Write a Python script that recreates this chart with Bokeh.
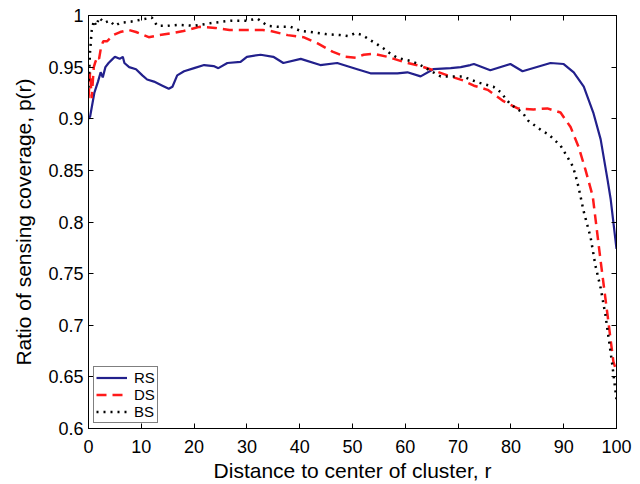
from bokeh.plotting import figure
from bokeh.models import Range1d, LinearAxis, FixedTicker, CustomJSTickFormatter, Legend, LegendItem
from bokeh.embed import file_html
from bokeh.resources import INLINE

# ---- data ----
rs_r = [0, 0.3, 1.1, 1.8, 2.3, 2.7, 3.2, 3.8, 4.4, 5, 5.9, 6.5, 6.8, 7.7, 9, 10.2, 11.1, 12.4, 14,
        15.2, 15.9, 16.8, 18.1, 20, 21.9, 23.7, 24.6, 26.3, 28.8, 30, 32.6, 35, 36.9, 40.2, 43.9,
        47.1, 50.9, 53.4, 58.5, 60.4, 62.9, 65.3, 68.6, 70.5, 72.3, 73, 76.1, 79.9, 82.2, 87.5,
        90, 91.9, 93.8, 95.6, 97, 98.3, 98.9, 100]
rs_p = [0.900, 0.902, 0.925, 0.936, 0.945, 0.940, 0.950, 0.954, 0.957, 0.960, 0.958, 0.960, 0.954,
        0.950, 0.948, 0.942, 0.938, 0.936, 0.932, 0.929, 0.931, 0.942, 0.946, 0.949, 0.952, 0.951,
        0.949, 0.954, 0.955, 0.960, 0.962, 0.960, 0.954, 0.958, 0.952, 0.954, 0.948, 0.944, 0.944,
        0.945, 0.941, 0.948, 0.949, 0.950, 0.952, 0.953, 0.947, 0.953, 0.946, 0.954, 0.953, 0.945,
        0.931, 0.906, 0.880, 0.841, 0.822, 0.774]

ds_r = [0, 0.3, 0.6, 1, 1.3, 1.7, 2, 2.4, 2.8, 3.5, 4.7, 6, 7.6, 9, 11.4, 13.5, 15.9, 18, 21, 24,
        26.7, 30, 33, 34.5, 37.7, 40.7, 43.4, 46.2, 48.7, 50.6, 52.1, 54, 56.6, 59.7, 62.9, 65.3,
        68, 71, 73, 75.6, 78.6, 81.3, 84.3, 86.9, 89.4, 91.3, 92.8, 94.1, 95.5, 97, 98.3, 99.4, 100]
ds_p = [0.920, 0.945, 0.920, 0.950, 0.955, 0.960, 0.958, 0.970, 0.975, 0.975, 0.981, 0.984, 0.986,
        0.984, 0.979, 0.981, 0.983, 0.985, 0.989, 0.988, 0.986, 0.986, 0.986, 0.985, 0.981, 0.979,
        0.973, 0.965, 0.960, 0.959, 0.962, 0.963, 0.960, 0.955, 0.951, 0.947, 0.942, 0.937, 0.932,
        0.928, 0.917, 0.910, 0.909, 0.910, 0.906, 0.892, 0.873, 0.851, 0.825, 0.762, 0.710, 0.665,
        0.655]

bs_r = [0, 0.3, 0.6, 1, 1.5, 2, 3, 4, 5, 6, 8, 10, 11, 12, 13, 15, 17, 20, 23.7, 27, 30, 32, 33.9,
        36, 38.3, 40.2, 42.1, 45, 47.7, 49.2, 50.6, 51.9, 53.4, 54.7, 55.9, 57.2, 58.5, 61, 62.5,
        65.3, 66.7, 69.1, 71, 72.3, 73.9, 76.7, 78, 79.9, 82.2, 83.3, 86, 87.1, 89.4, 90.7, 91.7,
        92.2, 92.8, 93.8, 95.1, 96, 97, 97.9, 98.5, 99.2, 100]
bs_p = [0.930, 0.965, 0.985, 0.995, 0.990, 0.998, 0.993, 0.995, 0.990, 0.993, 0.994, 0.996, 0.997,
        0.998, 0.990, 0.990, 0.991, 0.990, 0.993, 0.995, 0.995, 0.997, 0.990, 0.989, 0.989, 0.985,
        0.984, 0.982, 0.981, 0.980, 0.983, 0.981, 0.976, 0.972, 0.968, 0.963, 0.959, 0.956, 0.953,
        0.945, 0.941, 0.941, 0.941, 0.938, 0.935, 0.931, 0.926, 0.914, 0.906, 0.898, 0.888, 0.885,
        0.874, 0.863, 0.854, 0.846, 0.834, 0.810, 0.785, 0.758, 0.736, 0.710, 0.688, 0.662, 0.628]

x_ticks = [0, 10, 20, 30, 40, 50, 60, 70, 80, 90, 100]
y_ticks = [0.6, 0.65, 0.7, 0.75, 0.8, 0.85, 0.9, 0.95, 1.0]
series_names = ["RS", "DS", "BS"]

FONT = "Liberation Sans"

p = figure(width=640, height=484, output_backend="svg", toolbar_location=None,
           x_range=Range1d(0, 100), y_range=Range1d(0.6, 1.0),
           min_border_left=88, min_border_right=24, min_border_top=15, min_border_bottom=53)
p.grid.visible = False
p.outline_line_color = "black"
p.outline_line_width = 1
p.background_fill_color = "white"
p.border_fill_color = "white"

fmt = CustomJSTickFormatter(code="return String(Number(tick.toFixed(2)));")
blank = CustomJSTickFormatter(code="return '';")

def style_axis(ax, ticks, formatter, lab_size="18px"):
    ax.ticker = FixedTicker(ticks=ticks)
    ax.formatter = formatter
    ax.major_tick_in = 5
    ax.major_tick_out = 0
    ax.minor_tick_line_color = None
    ax.axis_line_color = "black"
    ax.major_tick_line_color = "black"
    ax.major_label_text_font = FONT
    ax.major_label_text_font_size = lab_size
    ax.major_label_text_color = "black"
    ax.axis_label_text_font = FONT
    ax.axis_label_text_font_size = "21px"
    ax.axis_label_text_font_style = "normal"
    ax.axis_label_text_color = "black"

style_axis(p.xaxis[0], x_ticks, fmt)
style_axis(p.yaxis[0], y_ticks, fmt)
p.xaxis[0].axis_label = "Distance to center of cluster, r"
p.yaxis[0].axis_label = "Ratio of sensing coverage, p(r)"
p.xaxis[0].major_label_standoff = 11
p.xaxis[0].axis_label_standoff = 3
p.yaxis[0].major_label_standoff = 5
p.yaxis[0].axis_label_standoff = 10

top = LinearAxis()
right = LinearAxis()
style_axis(top, x_ticks, blank)
style_axis(right, y_ticks, blank)
for a in (top, right):
    a.major_label_standoff = 0
p.add_layout(top, "above")
p.add_layout(right, "right")

r1 = p.line(rs_r, rs_p, line_color="#22208c", line_width=2.2)
r2 = p.line(ds_r, ds_p, line_color="#ff1a1a", line_width=2.5, line_dash="10 6")
r3 = p.line(bs_r, bs_p, line_color="black", line_width=2.5, line_dash="2 5")

legend = Legend(items=[LegendItem(label=series_names[0], renderers=[r1]),
                       LegendItem(label=series_names[1], renderers=[r2]),
                       LegendItem(label=series_names[2], renderers=[r3])],
                location="bottom_left")
legend.border_line_color = "black"
legend.border_line_width = 1.5
legend.background_fill_color = "white"
legend.background_fill_alpha = 1
legend.label_text_font = FONT
legend.label_text_font_size = "15px"
legend.label_text_color = "black"
legend.padding = 2
legend.spacing = 0
legend.margin = 5
legend.glyph_width = 31
legend.glyph_height = 15
legend.label_height = 15
legend.label_standoff = 7
p.add_layout(legend)

open("out.html", "w").write(file_html(p, INLINE))
